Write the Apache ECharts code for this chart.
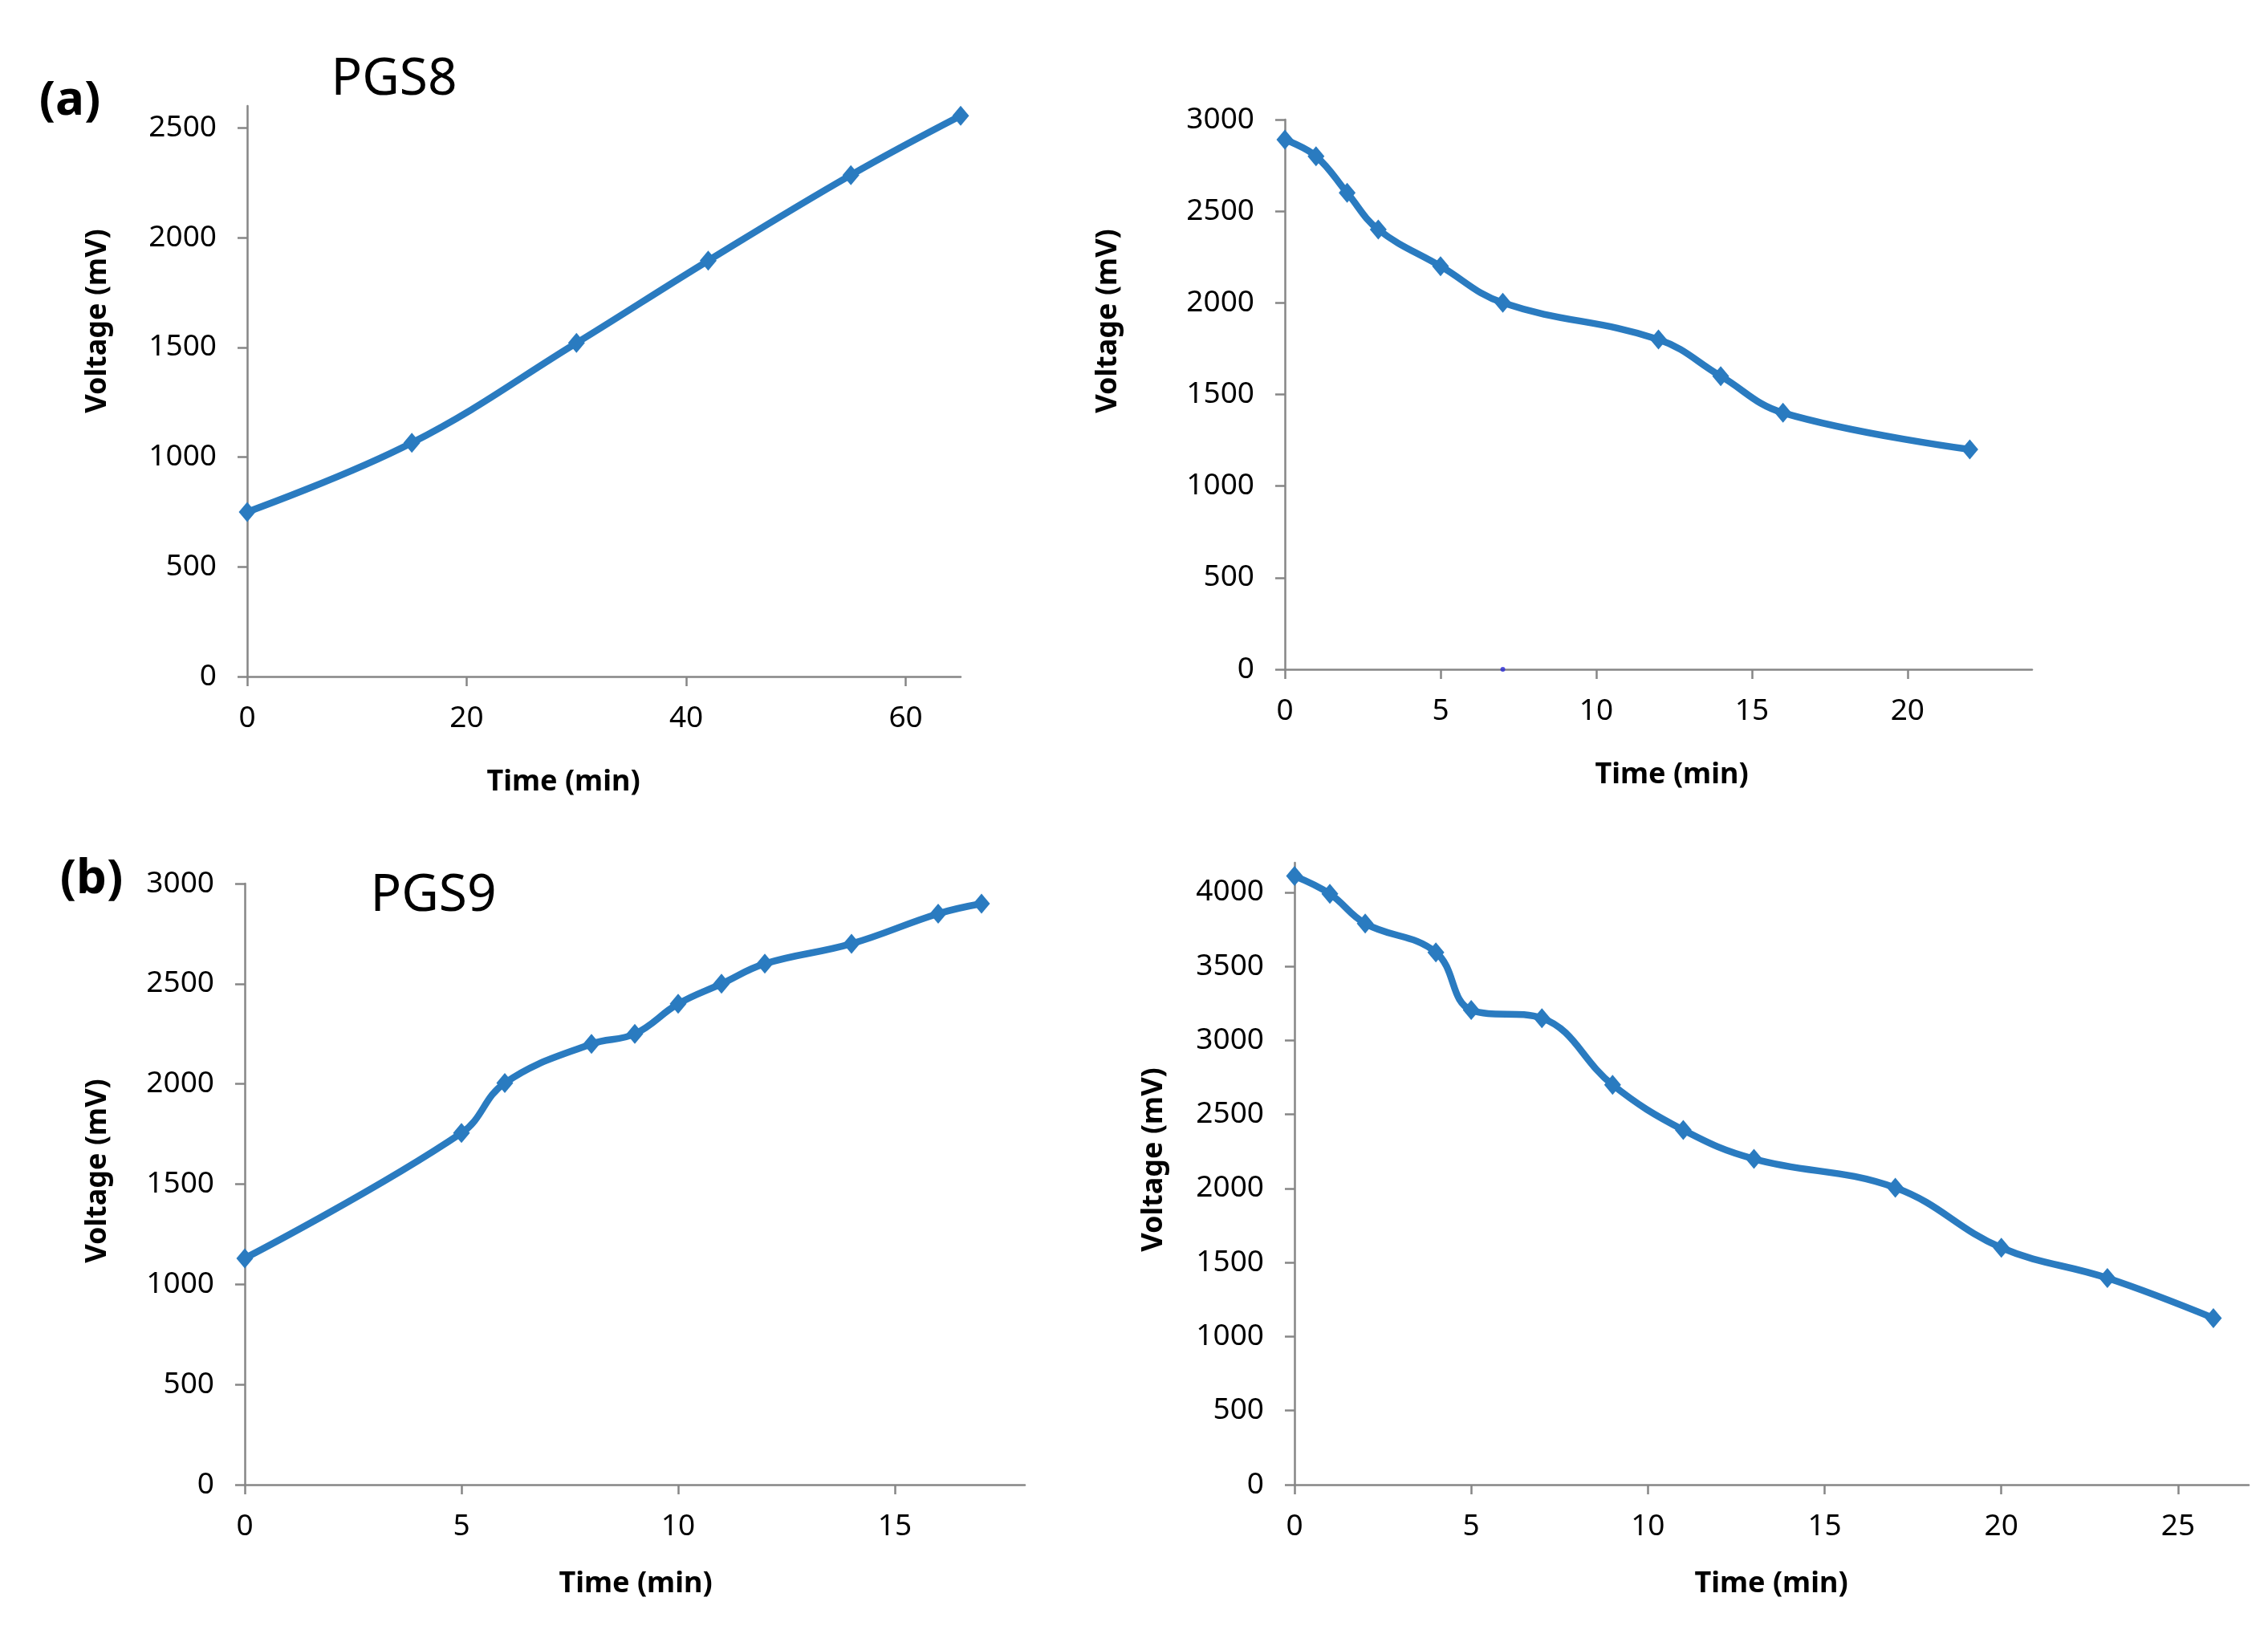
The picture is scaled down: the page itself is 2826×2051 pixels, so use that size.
<!DOCTYPE html>
<html>
<head>
<meta charset="utf-8">
<script src="https://cdn.jsdelivr.net/npm/echarts@6/dist/echarts.min.js"></script>
<style>html,body{margin:0;padding:0;background:#fff}#c{width:2826px;height:2051px}</style>
</head>
<body>
<div id="c"></div>
<script>
// ---- data ----
const a1Time = [0, 15, 30, 42, 55, 65];
const a1Volt = [750, 1065, 1520, 1895, 2285, 2555];
const a2Time = [0, 1, 2, 3, 5, 7, 12, 14, 16, 22];
const a2Volt = [2890, 2800, 2600, 2400, 2200, 2000, 1800, 1600, 1400, 1200];
const a2StrayTime = [7];
const a2StrayVolt = [0];
const b1Time = [0, 5, 6, 8, 9, 10, 11, 12, 14, 16, 17];
const b1Volt = [1130, 1755, 2005, 2200, 2250, 2400, 2500, 2600, 2700, 2850, 2900];
const b2Time = [0, 1, 2, 4, 5, 7, 9, 11, 13, 17, 20, 23, 26];
const b2Volt = [4110, 3990, 3790, 3595, 3205, 3150, 2700, 2395, 2200, 2005, 1600, 1395, 1125];

const a1XTicks = [0, 20, 40, 60];
const a1YTicks = [0, 500, 1000, 1500, 2000, 2500];
const a2XTicks = [0, 5, 10, 15, 20];
const a2YTicks = [0, 500, 1000, 1500, 2000, 2500, 3000];
const b1XTicks = [0, 5, 10, 15];
const b1YTicks = [0, 500, 1000, 1500, 2000, 2500, 3000];
const b2XTicks = [0, 5, 10, 15, 20, 25];
const b2YTicks = [0, 500, 1000, 1500, 2000, 2500, 3000, 3500, 4000];

const axisTitleX = 'Time (min)';
const axisTitleY = 'Voltage (mV)';

// ---- styling ----
const FONT = 'Noto Sans';
const AX = '#868686';
const LINE = '#2A7BC0';

function pairs(xs, ys) { return xs.map((x, i) => [x, ys[i]]); }
const plain = v => String(v);

function xAxis(grid, max, ticks) {
  return {
    type: 'value', gridIndex: grid, min: 0, max: max,
    axisLine: { show: true, onZero: false, lineStyle: { color: AX, width: 2.5 } },
    axisTick: { show: true, inside: false, length: 12, customValues: ticks, lineStyle: { color: AX, width: 2.5 } },
    axisLabel: { customValues: ticks, formatter: plain, fontFamily: FONT, fontSize: 37, color: '#000', margin: 34 },
    splitLine: { show: false }
  };
}
function yAxis(grid, max, ticks) {
  return {
    type: 'value', gridIndex: grid, min: 0, max: max,
    axisLine: { show: true, onZero: false, lineStyle: { color: AX, width: 2.5 } },
    axisTick: { show: true, inside: false, length: 12, customValues: ticks, lineStyle: { color: AX, width: 2.5 } },
    axisLabel: { customValues: ticks, formatter: plain, fontFamily: FONT, fontSize: 37, color: '#000', margin: 38 },
    splitLine: { show: false }
  };
}
function lineSeries(idx, xs, ys) {
  return {
    type: 'line', xAxisIndex: idx, yAxisIndex: idx,
    data: pairs(xs, ys), smooth: 0.4, clip: false,
    symbol: 'diamond', symbolSize: [21, 25], showAllSymbol: true,
    lineStyle: { color: LINE, width: 8.5 },
    itemStyle: { color: LINE }
  };
}
function txt(str, x, y, size, bold, rot) {
  return {
    type: 'text', x: x, y: y, rotation: rot || 0,
    style: { text: str, fontFamily: FONT, fontSize: size, fontWeight: bold ? 'bold' : 'normal',
             fill: '#000', align: 'center', verticalAlign: 'middle' }
  };
}

const chart = echarts.init(document.getElementById('c'), null, { renderer: 'canvas' });
chart.setOption({
  animation: false,
  backgroundColor: '#fff',
  grid: [
    { left: 308, top: 132, width: 889, height: 711 },
    { left: 1601, top: 149, width: 931, height: 685 },
    { left: 305, top: 1101, width: 972, height: 749 },
    { left: 1613, top: 1075, width: 1189, height: 775 }
  ],
  xAxis: [
    xAxis(0, 65, a1XTicks),
    xAxis(1, 24, a2XTicks),
    xAxis(2, 18, b1XTicks),
    xAxis(3, 27, b2XTicks)
  ],
  yAxis: [
    yAxis(0, 2600, a1YTicks),
    yAxis(1, 3000, a2YTicks),
    yAxis(2, 3000, b1YTicks),
    yAxis(3, 4200, b2YTicks)
  ],
  series: [
    lineSeries(0, a1Time, a1Volt),
    lineSeries(1, a2Time, a2Volt),
    lineSeries(2, b1Time, b1Volt),
    lineSeries(3, b2Time, b2Volt),
    { type: 'scatter', xAxisIndex: 1, yAxisIndex: 1, data: pairs(a2StrayTime, a2StrayVolt),
      symbol: 'circle', symbolSize: 6, itemStyle: { color: '#2B2BD6' }, clip: false, z: 5 }
  ],
  graphic: [
    txt('(a)', 87, 126, 60, true),
    txt('(b)', 114, 1096, 60, true),
    txt('PGS8', 491, 100, 64, false),
    txt('PGS9', 540, 1117, 64, false),
    txt(axisTitleY, 122, 400, 36, true, Math.PI / 2),
    txt(axisTitleY, 1381, 400, 36, true, Math.PI / 2),
    txt(axisTitleY, 122, 1459, 36, true, Math.PI / 2),
    txt(axisTitleY, 1438, 1445, 36, true, Math.PI / 2),
    txt(axisTitleX, 702, 975, 36, true),
    txt(axisTitleX, 2083, 966, 36, true),
    txt(axisTitleX, 792, 1974, 36, true),
    txt(axisTitleX, 2207, 1974, 36, true)
  ]
});
</script>
</body>
</html>
